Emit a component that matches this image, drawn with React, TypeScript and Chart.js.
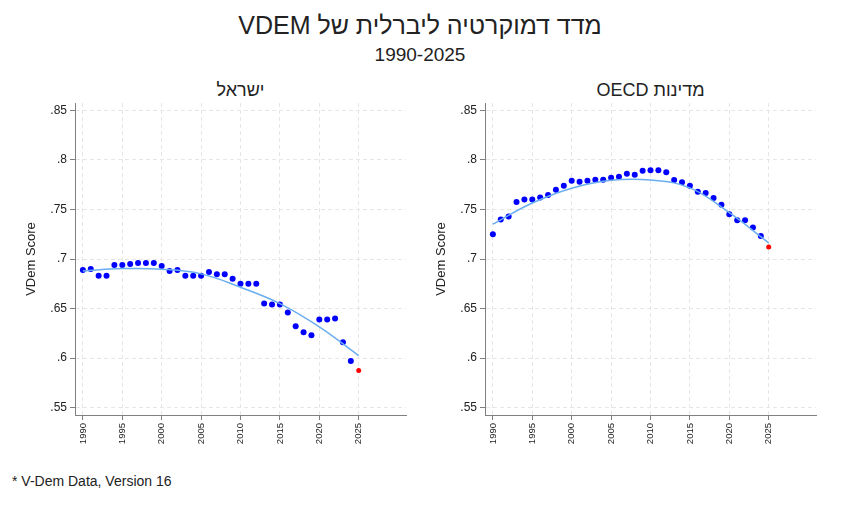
import { useEffect, useRef } from 'react';
import { Chart, registerables } from 'chart.js';

Chart.register(...registerables);

const FONT = '"Liberation Sans", Arial, Helvetica, sans-serif';

const years = [
  1990, 1991, 1992, 1993, 1994, 1995, 1996, 1997, 1998, 1999,
  2000, 2001, 2002, 2003, 2004, 2005, 2006, 2007, 2008, 2009,
  2010, 2011, 2012, 2013, 2014, 2015, 2016, 2017, 2018, 2019,
  2020, 2021, 2022, 2023, 2024, 2025,
];

const israelScores = [
  0.689, 0.690, 0.683, 0.683, 0.694, 0.694, 0.695, 0.696, 0.696, 0.696,
  0.693, 0.688, 0.689, 0.683, 0.683, 0.683, 0.687, 0.6845, 0.6845, 0.680,
  0.675, 0.675, 0.675, 0.655, 0.654, 0.654, 0.646, 0.632, 0.626, 0.623,
  0.639, 0.639, 0.640, 0.616, 0.597, 0.5875,
];

const oecdScores = [
  0.725, 0.740, 0.743, 0.7575, 0.760, 0.760, 0.762, 0.7645, 0.770, 0.774,
  0.779, 0.778, 0.779, 0.780, 0.780, 0.782, 0.783, 0.786, 0.785, 0.789,
  0.7895, 0.7895, 0.7875, 0.7797, 0.7774, 0.774, 0.768, 0.7666, 0.7615, 0.7547,
  0.7453, 0.7392, 0.7392, 0.7318, 0.7233, 0.7122,
];

// fitted curves
const fitYears = [1990, 1995, 2000, 2005, 2010, 2015, 2020, 2025];
const israelFit = [0.688, 0.6903, 0.6897, 0.685, 0.6715, 0.655, 0.6315, 0.6025];
const oecdFit = [0.7352, 0.7565, 0.7715, 0.7795, 0.7797, 0.7718, 0.7468, 0.7163];

const xTickYears = [1990, 1995, 2000, 2005, 2010, 2015, 2020, 2025];
const yTickValues = [0.55, 0.6, 0.65, 0.7, 0.75, 0.8, 0.85];

const fmtY = (v: number) => v.toFixed(2).replace(/0+$/, '').replace(/^0/, '');

function makeConfig(scores: number[], fit: number[]): any {
  const last = years.length - 1;
  return {
    type: 'scatter',
    data: {
      datasets: [
        {
          type: 'line',
          data: fitYears.map((x, i) => ({ x, y: fit[i] })),
          borderColor: '#6aaef0',
          borderWidth: 1.5,
          pointRadius: 0,
          tension: 0.4,
          fill: false,
        },
        {
          data: years.map((x, i) => ({ x, y: scores[i] })),
          pointBackgroundColor: (c: any) => (c.dataIndex === last ? '#ff0000' : '#0000ff'),
          pointBorderWidth: 0,
          pointRadius: (c: any) => (c.dataIndex === last ? 2.5 : 3),
        },
      ],
    },
    options: {
      responsive: true,
      maintainAspectRatio: false,
      animation: false,
      layout: { padding: { top: 23, right: 15, bottom: 5, left: 0 } },
      plugins: { legend: { display: false }, tooltip: { enabled: false } },
      scales: {
        x: {
          type: 'linear',
          min: 1989,
          max: 2031,
          afterBuildTicks: (s: any) => { s.ticks = xTickYears.map((value) => ({ value })); },
          afterFit: (s: any) => { s.height = 40; },
          grid: { color: '#e6e6e6', tickColor: '#808080', tickLength: 5, tickBorderDash: [] },
          border: { color: '#808080', dash: [4, 3] },
          ticks: {
            autoSkip: false,
            minRotation: 90,
            maxRotation: 90,
            padding: 3,
            color: '#222',
            font: { family: FONT, size: 9.5 },
            callback: (v: any) => String(v),
          },
        },
        y: {
          min: 0.5425,
          max: 0.8575,
          afterBuildTicks: (s: any) => { s.ticks = yTickValues.map((value) => ({ value })); },
          afterFit: (s: any) => { s.width = 75; },
          grid: { color: '#e6e6e6', tickColor: '#808080', tickLength: 5, tickBorderDash: [] },
          border: { color: '#808080', dash: [4, 3] },
          ticks: {
            padding: 3,
            color: '#222',
            font: { family: FONT, size: 12 },
            callback: (v: any) => fmtY(Number(v)),
          },
          title: {
            display: true,
            text: 'VDem Score',
            color: '#222',
            font: { family: FONT, size: 13 },
            padding: { top: 24, bottom: 0 },
          },
        },
      },
    },
  };
}

const Panel: React.FC<{ left: number; title: string; scores: number[]; fit: number[] }> = ({ left, title, scores, fit }) => {
  const canvasRef = useRef<HTMLCanvasElement>(null);

  useEffect(() => {
    if (!canvasRef.current) return;
    const chart = new Chart(canvasRef.current, makeConfig(scores, fit));
    return () => chart.destroy();
  }, [scores, fit]);

  return (
    <>
      <div
        dir="rtl"
        style={{
          position: 'absolute', left: left + 75, width: 331, top: 79, textAlign: 'center',
          fontSize: 18, lineHeight: '22px', color: '#222',
        }}
      >
        {title}
      </div>
      <div style={{ position: 'absolute', left, top: 80, width: 421, height: 380 }}>
        <canvas ref={canvasRef} />
      </div>
    </>
  );
};

export default function App() {
  return (
    <div
      style={{
        position: 'absolute', left: 0, top: 0, width: 842, height: 505,
        background: '#fff', fontFamily: FONT, overflow: 'hidden',
      }}
    >
      <div
        dir="rtl"
        style={{ position: 'absolute', left: 0, width: 840, top: 10, textAlign: 'center', fontSize: 25, lineHeight: '30px', color: '#222' }}
      >
        מדד דמוקרטיה ליברלית של VDEM
      </div>
      <div style={{ position: 'absolute', left: 0, width: 840, top: 44, textAlign: 'center', fontSize: 19, lineHeight: '22px', color: '#222' }}>
        1990-2025
      </div>
      <Panel left={0} title="ישראל" scores={israelScores} fit={israelFit} />
      <Panel left={410} title="מדינות OECD" scores={oecdScores} fit={oecdFit} />
      <div style={{ position: 'absolute', left: 12, top: 473, fontSize: 14, lineHeight: '16px', color: '#222' }}>
        * V-Dem Data, Version 16
      </div>
    </div>
  );
}
